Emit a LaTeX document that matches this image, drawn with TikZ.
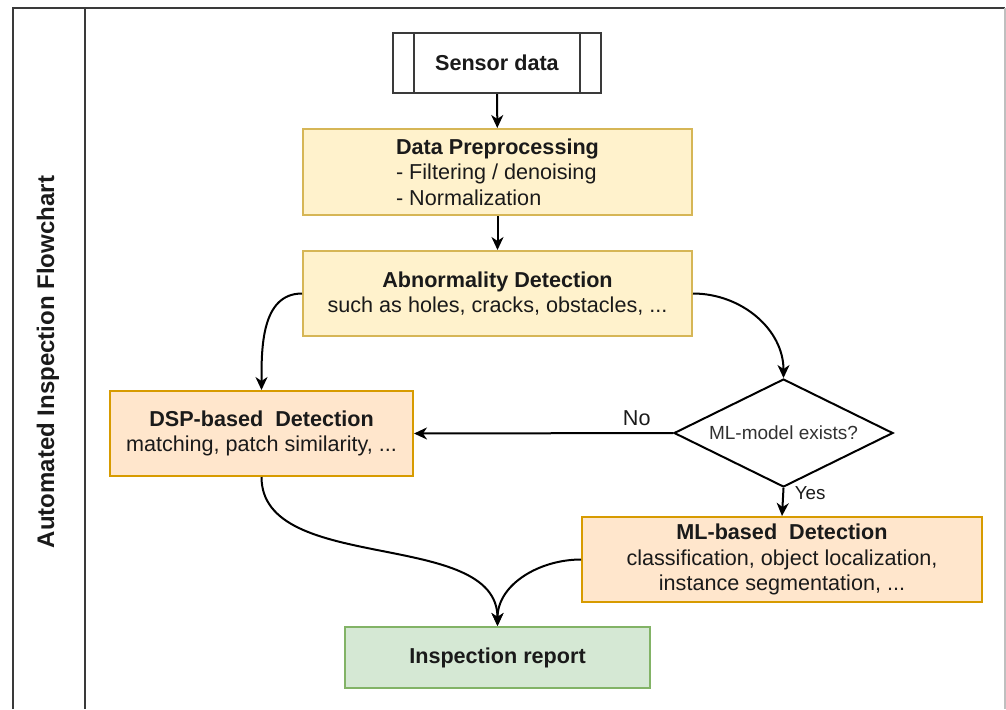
\documentclass[tikz,border=0pt]{standalone}
\usepackage{fontspec}
\setmainfont{Liberation Sans}
\usetikzlibrary{shapes.geometric, arrows.meta}

\definecolor{prepfill}{HTML}{FFF2CC}
\definecolor{prepline}{HTML}{D6B656}
\definecolor{detfill}{HTML}{FFE6CC}
\definecolor{detline}{HTML}{D79B00}
\definecolor{repfill}{HTML}{D5E8D4}
\definecolor{repline}{HTML}{82B366}
\definecolor{framegray}{HTML}{3A3A3A}
\definecolor{inktext}{HTML}{1A1A1A}

\tikzset{
	flowbox/.style={draw, line width=1pt, rectangle, align=center, text=inktext,
		font=\fontsize{10.8}{12.8}\selectfont, inner sep=2pt},
	prepbox/.style={flowbox, fill=prepfill, draw=prepline, minimum width=194.5pt, minimum height=43pt},
	detbox/.style={flowbox, fill=detfill, draw=detline, minimum height=42.5pt},
	flow/.style={-{Stealth[length=6.5pt, width=6pt, inset=2pt]}, line width=1pt},
}

\begin{document}
\begin{tikzpicture}[x=0.5pt, y=-0.5pt]
				\useasboundingbox (0,0) rectangle (1006,709);
				% frame with the side title
				\draw[framegray, line width=1.2pt] (13,709) -- (13,8) -- (1005,8);
				\draw[framegray, line width=1.2pt] (85,8) -- (85,709);
				\draw[black!25, line width=0.6pt] (1005,8) -- (1005,709);
				\node[rotate=90, font=\fontsize{12}{14}\selectfont\bfseries, text=inktext] (title) at (48,362) {Automated Inspection Flowchart};
				% boxes
				\node[flowbox, draw=framegray, fill=white, minimum width=104pt, minimum height=30pt] (sensor) at (497,63) {\textbf{Sensor data}};
				\draw[framegray, line width=1pt] ([xshift=11pt]sensor.north west) -- ([xshift=11pt]sensor.south west);
				\draw[framegray, line width=1pt] ([xshift=-11pt]sensor.north east) -- ([xshift=-11pt]sensor.south east);
				\node[prepbox, align=left] (prep) at (497.5,172) {\textbf{Data Preprocessing}\\- Filtering / denoising\\- Normalization};
				\node[prepbox, minimum height=42.5pt] (abnorm) at (497.5,293.5) {\textbf{Abnormality Detection}\\such as holes, cracks, obstacles, ...};
				\node[detbox, minimum width=151.5pt] (dsp) at (261.5,433.5) {\textbf{DSP-based\ \ Detection}\\matching, patch similarity, ...};
				\node[diamond, draw, line width=1pt, shape aspect=2, inner sep=0pt, minimum width=109.5pt, minimum height=54pt,
					text=inktext!90, font=\fontsize{9.5}{11}\selectfont] (mlq) at (783.5,433) {ML-model exists?};
				\node[detbox, minimum width=200pt] (ml) at (782,559.5) {\textbf{ML-based\ \ Detection}\\classification, object localization,\\instance segmentation, ...};
				\node[flowbox, fill=repfill, draw=repline, minimum width=152.5pt, minimum height=30.5pt] (report) at (497.5,657.5) {\textbf{Inspection report}};
				% connectors
				\draw[flow] (sensor) -- (prep);
				\draw[flow] (prep) -- (abnorm);
				\draw[flow] (abnorm.west) to[out=180, in=90] (dsp.north);
				\draw[flow] (abnorm.east) to[out=0, in=90] (mlq.north);
				\draw[flow] (mlq.west) -- node[pos=0.14, above, text=inktext, font=\fontsize{10.8}{12}\selectfont] (no) {No} (dsp.east);
				\draw[flow] (mlq.south) -- node[pos=0.2, right, xshift=2pt, text=inktext, font=\fontsize{9.4}{11}\selectfont] (yes) {Yes} (ml.north);
				\draw[flow] (dsp.south) to[out=-90, in=90, looseness=0.9] (report.north);
				\draw[flow] (ml.west) to[out=180, in=90] (report.north);
			\end{tikzpicture}
\end{document}
